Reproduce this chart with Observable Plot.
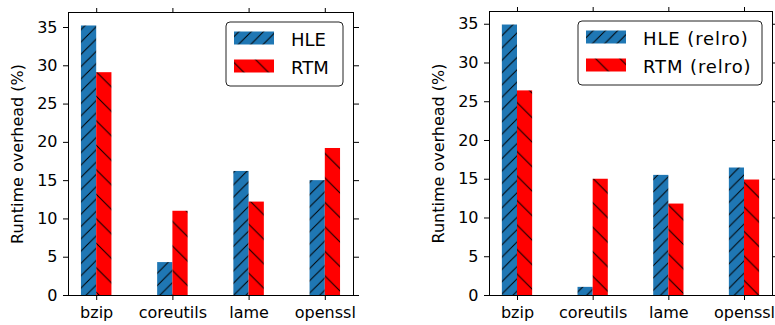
<!DOCTYPE html>
<html>
<head>
<meta charset="utf-8">
<script src="https://cdn.jsdelivr.net/npm/d3@7"></script>
<script src="https://cdn.jsdelivr.net/npm/@observablehq/plot@0.6"></script>
<style>
  html, body { margin: 0; padding: 0; background: #fff; }
  #wrap { display: flex; width: 775px; height: 325px; overflow: hidden; }
  #wrap svg { display: block; flex: none; }
</style>
</head>
<body>
<div id="wrap"></div>
<script>
// ---- data ----
const categories = ["bzip", "coreutils", "lame", "openssl"];
const yTicks = [0, 5, 10, 15, 20, 25, 30, 35];
const yLabel = "Runtime overhead (%)";

const leftSeriesNames = ["HLE", "RTM"];
const leftHLE = [35.2, 4.3, 16.2, 15.0];
const leftRTM = [29.1, 11.0, 12.2, 19.2];

const rightSeriesNames = ["HLE (relro)", "RTM (relro)"];
const rightHLE = [34.9, 1.05, 15.5, 16.45];
const rightRTM = [26.4, 15.0, 11.8, 14.9];

// ---- styling ----
const BLUE = "#1f77b4";
const RED = "#ff0000";
const BAR_W = 0.2;

function addPatterns(svg, id) {
  const defs = d3.select(svg).insert("defs", ":first-child");
  function pat(name, color, s, forward) {
    const p = defs.append("pattern")
      .attr("id", `${id}-${name}`)
      .attr("patternUnits", "userSpaceOnUse")
      .attr("width", s).attr("height", s);
    p.append("rect").attr("width", s).attr("height", s).attr("fill", color);
    const d = forward
      ? `M0,${s}L${s},0M${-1},1L1,${-1}M${s - 1},${s + 1}L${s + 1},${s - 1}`
      : `M0,0L${s},${s}M${-1},${s - 1}L1,${s + 1}M${s - 1},${-1}L${s + 1},1`;
    p.append("path").attr("d", d).attr("stroke", "#000").attr("stroke-width", 1).attr("fill", "none");
  }
  pat("hle", BLUE, 12.3, true);
  pat("rtm", RED, 24.5, false);
}

function chart(o) {
  const rowsHLE = categories.map((c, i) => ({cat: c, value: o.hle[i], x1: i - BAR_W, x2: i}));
  const rowsRTM = categories.map((c, i) => ({cat: c, value: o.rtm[i], x1: i, x2: i + BAR_W}));
  const xmin = -BAR_W, xmax = categories.length - 1 + BAR_W;
  const pad = 0.05 * (xmax - xmin);
  const ymax = d3.max([...o.hle, ...o.rtm]) * 1.05;
  const idx = d3.range(categories.length);

  const svg = Plot.plot({
    width: o.width,
    height: 325,
    marginTop: o.marginTop,
    marginRight: o.marginRight,
    marginBottom: 30,
    marginLeft: o.marginLeft,
    style: {fontFamily: "DejaVu Sans", fontSize: "16px", color: "#000", background: "#fff", overflow: "visible"},
    x: {type: "linear", domain: [xmin - pad, xmax + pad]},
    y: {domain: [0, ymax]},
    marks: [
      Plot.rectY(rowsHLE, {x1: "x1", x2: "x2", y1: 0, y2: "value", fill: `url(#${o.id}-hle)`}),
      Plot.rectY(rowsRTM, {x1: "x1", x2: "x2", y1: 0, y2: "value", fill: `url(#${o.id}-rtm)`}),
      Plot.frame({stroke: "#000", strokeWidth: 1}),
      Plot.axisY({anchor: "left", ticks: yTicks, tickSize: 5, tickPadding: 6, fontSize: 16,
        label: yLabel, labelAnchor: "center", labelArrow: "none", labelOffset: 57}),
      Plot.axisY({anchor: "right", ticks: yTicks, tickSize: 5, tickFormat: () => "", label: null}),
      Plot.axisX({anchor: "bottom", ticks: idx, tickFormat: i => categories[i], tickSize: 5, tickPadding: 6, fontSize: 16, label: null}),
      Plot.axisX({anchor: "top", ticks: idx, tickSize: 5, tickFormat: () => "", label: null})
    ]
  });
  addPatterns(svg, o.id);

  // legend (upper right, inside the frame)
  const frameRight = o.width - o.marginRight;
  const lg = o.legend;
  const g = d3.select(svg).append("g");
  const bx = frameRight - 10 - lg.w, by = o.marginTop + 10;
  g.append("rect").attr("x", bx).attr("y", by).attr("width", lg.w).attr("height", 64)
    .attr("rx", 4).attr("fill", "#fff").attr("stroke", "#222").attr("stroke-width", 1);
  const entries = [[o.names[0], "hle"], [o.names[1], "rtm"]];
  entries.forEach(([name, key], k) => {
    const py = by + 9.5 + k * 28;
    g.append("rect").attr("x", bx + 8).attr("y", py).attr("width", 40).attr("height", 13)
      .attr("fill", `url(#${o.id}-${key})`);
    g.append("text").attr("x", bx + 65).attr("y", py + 14)
      .attr("text-anchor", "start")
      .style("text-anchor", "start")
      .style("font-family", "DejaVu Sans")
      .style("font-size", "18px")
      .style("letter-spacing", lg.spacing)
      .style("fill", "#000")
      .text(name);
  });
  return svg;
}

const wrap = document.getElementById("wrap");
wrap.appendChild(chart({id: "L", width: 390, marginLeft: 68, marginRight: 37, marginTop: 12,
  hle: leftHLE, rtm: leftRTM, names: leftSeriesNames, legend: {w: 117, spacing: "0px"}}));
wrap.appendChild(chart({id: "R", width: 385, marginLeft: 99, marginRight: 3, marginTop: 11,
  hle: rightHLE, rtm: rightRTM, names: rightSeriesNames, legend: {w: 184, spacing: "0.9px"}}));
</script>
</body>
</html>
